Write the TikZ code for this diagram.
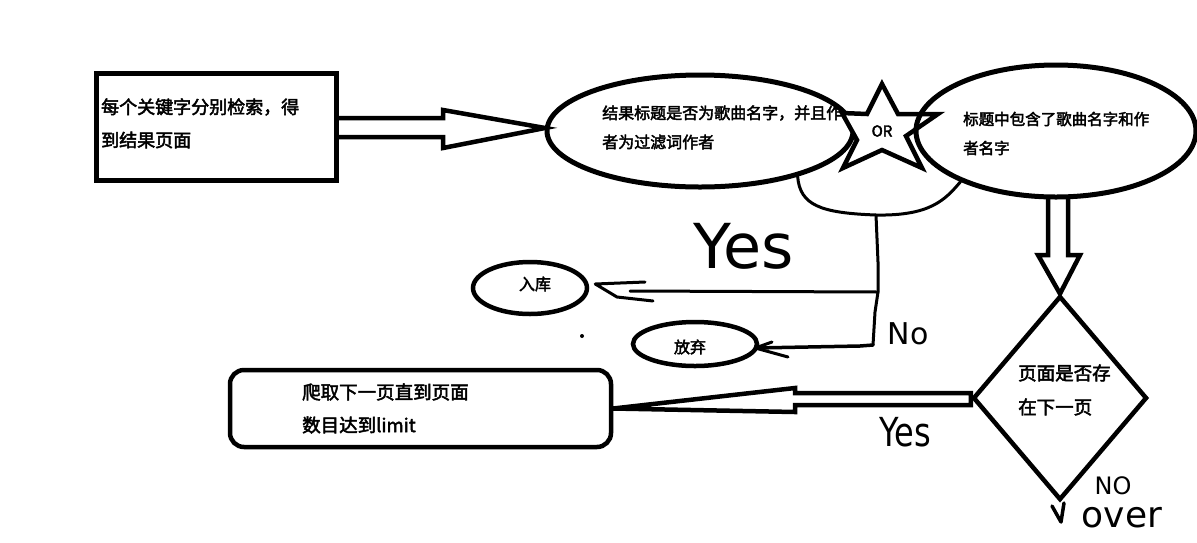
\documentclass[tikz,border=0pt]{standalone}
\usepackage{fontspec}
\newfontfamily\cjk{Noto Sans CJK SC}[AutoFakeBold=2.6]
\newfontfamily\hand{DejaVu Sans}
\usetikzlibrary{shapes.geometric,calc}
\begin{document}
\begin{tikzpicture}[x=1pt,y=-1pt]
\tikzset{
  shp/.style={draw, line width=5pt, inner sep=0pt},
  oval/.style={shp, ellipse},
  blk/.style={draw, line width=4.5pt, line join=miter},
  pen/.style={draw, line width=3pt, line cap=round, line join=round},
  cn/.style={font=\cjk\bfseries\fontsize{#1}{#1}\selectfont, inner sep=0pt, anchor=west},
  cc/.style={font=\cjk\bfseries\fontsize{#1}{#1}\selectfont, inner sep=0pt},
  hw/.style={font=\hand\fontsize{#1}{#1}\selectfont, inner sep=0pt},
}
\fill[white] (0,0) rectangle (1197,542);
\useasboundingbox (0,0) rectangle (1197,542);

% first box
\node[shp, minimum width=240pt, minimum height=107pt] (box1) at (216,126.5) {};
\node[cn=18] (t1a) at (101,107) {每个关键字分别检索，得};
\node[cn=18] (t1b) at (101,140) {到结果页面};

% ellipse 1
\node[oval, minimum width=306pt, minimum height=112pt] (e1) at (700,131) {};
\node[cn=16] (t2a) at (602,113) {结果标题是否为歌曲名字，并且作};
\node[cn=16] (t2b) at (602,142) {者为过滤词作者};

% star
\draw[line width=4.5pt, fill=white, line join=miter] (882,84) -- (898,114) -- (938,114) -- (906,136) -- (922,168) -- (882,150) -- (843,168) -- (857,140) -- (842,113) -- (867,114) -- cycle;
\node[cc=15] (or) at (882,131) {OR};

% ellipse 2
\node[oval, minimum width=280pt, minimum height=132pt] (e2) at (1056,131) {};
\node[cn=15.5] (t3a) at (963,119) {标题中包含了歌曲名字和作};
\node[cn=15.5] (t3b) at (963,148) {者名字};

% block arrow box1 -> e1
\draw[blk] ($(box1.east)+(0,-8.5)$) -- (443,118) -- (443,110) -- (545,128) -- (443,148) -- (443,137) -- ($(box1.east)+(0,10.5)$);

% join curve
\coordinate (j1) at (876,215);
\coordinate (j2) at (878,292);
\coordinate (j3) at (873,345);
\draw[pen] (e1.-25) .. controls (800,205) and (820,213) .. (j1) .. controls (930,216) and (945,200) .. (e2.208);
\draw[pen] (j1) -- (878,262) -- (j2) -- (875,312) -- (j3);

% small ovals
\node[oval, line width=4.5pt, minimum width=114pt, minimum height=52pt] (ruku) at (530,288) {};
\node[cc=16] (tr) at (535,284) {入库};
\node[oval, line width=4.5pt, minimum width=124pt, minimum height=44pt] (fq) at (695,344) {};
\node[cc=16] (tf) at (690,347) {放弃};

% yes line
\coordinate (ya) at (630,291);
\draw[pen] (j2) -- (ya);
\draw[pen] (645,282) -- ($(ruku.east)+(6,-4)$) -- (617,297) -- (653,301);
\node[hw=62] (yes1) at (744,246) {Yes};

% no line
\draw[pen, line width=3.5pt] (j3) -- (860,346) -- ($(fq.east)+(-4,4)$);
\draw[pen] (772,342) -- ($(fq.east)+(-4,4)$) -- (788,357);
\node[hw=30] (no1) at (908,334) {No};

\fill (582,336) circle (2);

% diamond
\node[shp, line width=4.5pt, diamond, minimum width=174pt, minimum height=204pt] (dia) at (1060,398) {};
\node[cn=18.5] (t4a) at (1018,373) {页面是否存};
\node[cn=18.5] (t4b) at (1018,407) {在下一页};

% block arrow e2 -> diamond
\draw[blk] (1048,196) -- (1048,255) -- (1038,255) -- (dia.north) -- (1080,255) -- (1068,255) -- (1068,196);

% rounded rect
\node[shp, line width=4.5pt, rounded corners=14pt, minimum width=381pt, minimum height=77pt] (rr) at (420.5,408.5) {};
\node[cn=18.5] (t5a) at (302,392) {爬取下一页直到页面};
\node[cn=18.5] (t5b) at (302,425) {数目达到limit};

% block arrow diamond -> rr
\draw[blk] ($(dia.west)+(0,-5)$) -- (795,393) -- (795,388) -- (rr.east) -- (795,412) -- (795,405) -- ($(dia.west)+(0,7)$) -- cycle;
\node[hw=40, xscale=0.8] (yes2) at (905,432) {Yes};

% bottom of diamond
\draw[pen, line width=3.5pt] (1052,506) -- (1061,522) -- (1064,503);
\node[hw=24] (no2) at (1113,486) {NO};
\node[hw=36] (over) at (1122,518) {over};
\end{tikzpicture}
\end{document}
